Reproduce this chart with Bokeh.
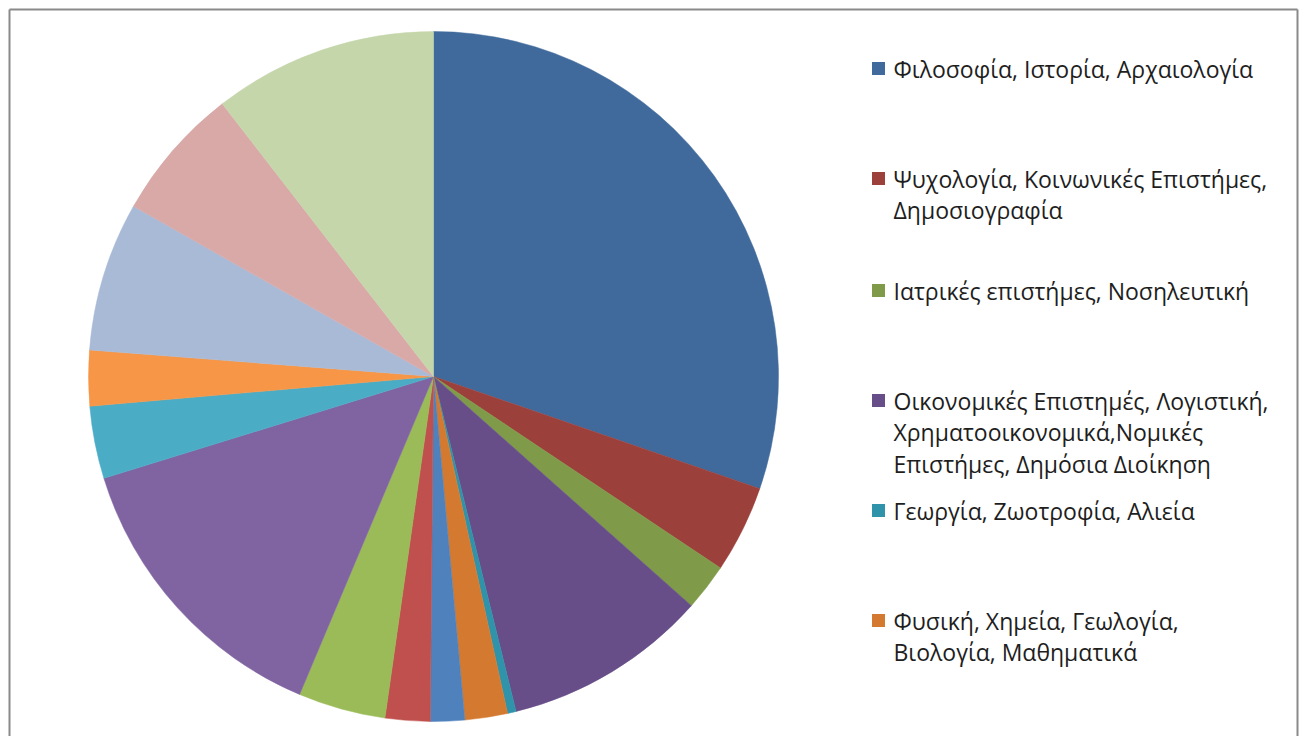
import math
from bokeh.plotting import figure
from bokeh.models import Range1d
from bokeh.core.properties import value
from bokeh.embed import file_html
from bokeh.resources import INLINE

# ---- data (percent shares, clockwise from 12 o'clock) ----
values = [30.3, 4.1, 2.2, 9.6, 0.4, 2.0, 1.6, 2.1, 4.1, 13.9, 3.4, 2.6, 7.0, 6.3, 10.5]
colors = ["#416A9C", "#9C403C", "#7F9A49", "#674E88", "#2F93AA", "#D47A30",
          "#4F81BD", "#C0504D", "#9BBB59", "#8064A2", "#4BACC6", "#F79646",
          "#A9BAD7", "#D9A9A8", "#C5D6AB"]
legend_labels = [
    "Φιλοσοφία, Ιστορία, Αρχαιολογία",
    "Ψυχολογία, Κοινωνικές Επιστήμες,\nΔημοσιογραφία",
    "Ιατρικές επιστήμες, Νοσηλευτική",
    "Οικονομικές Επιστημές, Λογιστική,\nΧρηματοοικονομικά,Νομικές\nΕπιστήμες, Δημόσια Διοίκηση",
    "Γεωργία, Ζωοτροφία, Αλιεία",
    "Φυσική, Χημεία, Γεωλογία,\nΒιολογία, Μαθηματικά",
]

W, H = 1300, 736
p = figure(width=W, height=H, output_backend="svg", toolbar_location=None,
           x_range=Range1d(0, W), y_range=Range1d(0, H), min_border=0)
p.axis.visible = False
p.grid.visible = False
p.outline_line_color = None
p.background_fill_color = "white"

def px(x):
    return x

def py(y):
    return H - y

# pie
cx, cy, r = px(433), py(376), 345
total = float(sum(values))
starts, ends = [], []
cum = 0.0
for v in values:
    t1 = cum / total * 2 * math.pi
    cum += v
    t2 = cum / total * 2 * math.pi
    starts.append(math.pi / 2 - t2)
    ends.append(math.pi / 2 - t1)
p.wedge(x=[cx] * len(values), y=[cy] * len(values), radius=r,
        start_angle=starts, end_angle=ends, fill_color=colors,
        line_color=colors, line_width=0.5, direction="anticlock")

# legend
tx, mx = px(893), px(878)
ys0 = [68, 178, 290, 400, 510, 620]
lh = 31.5
for i, lab in enumerate(legend_labels):
    y0 = ys0[i]
    p.rect(x=[mx], y=[py(y0)], width=13, height=13, fill_color=colors[i], line_color=None)
    for j, line in enumerate(lab.split("\n")):
        p.text(x=[tx], y=[py(y0 + j * lh)], text=[line], text_font=value("Open Sans"),
               text_font_size="23px", text_baseline="middle", text_align="left",
               text_color="#1e1e1e")

# chart border
p.segment(x0=[px(9), px(9), px(1297)], y0=[0, py(9), 0],
          x1=[px(9), px(1297), px(1297)], y1=[py(9), py(9), py(9)],
          line_color="#8a8a8a", line_width=2)

open("out.html", "w").write(file_html(p, INLINE))
